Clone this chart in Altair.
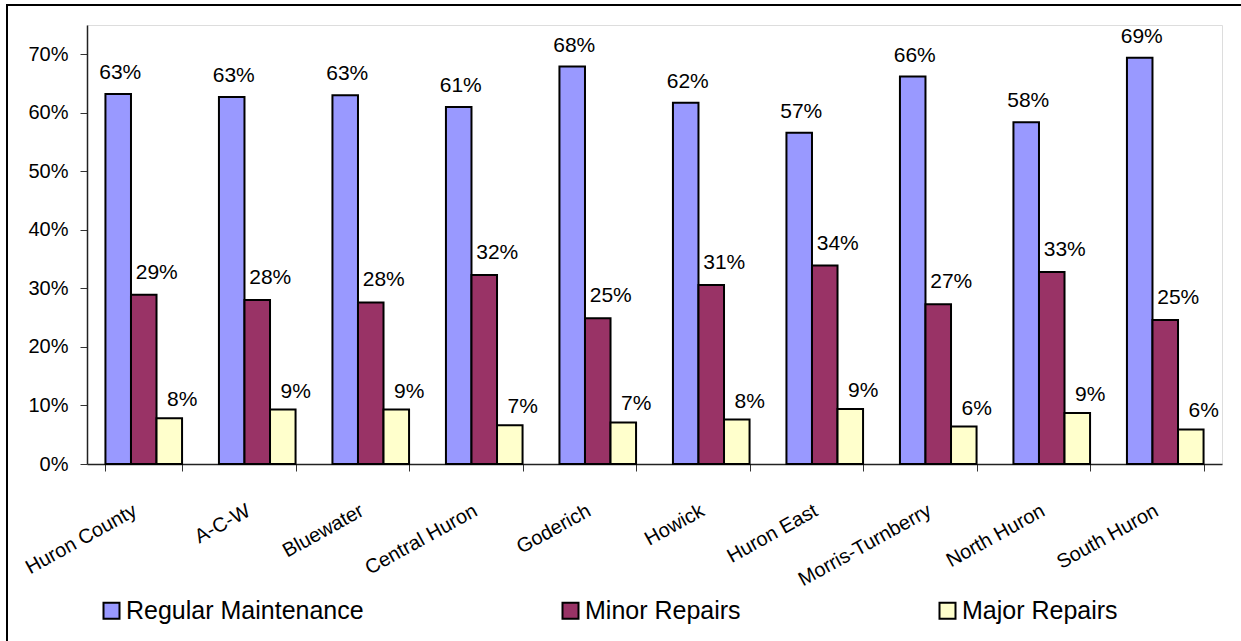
import altair as alt
import pandas as pd

# Share of dwellings by repair need, per municipality (percent)
areas = ["Huron County", "A-C-W", "Bluewater", "Central Huron", "Goderich",
         "Howick", "Huron East", "Morris-Turnberry", "North Huron", "South Huron"]
regular = [63.2, 62.7, 63.0, 61.0, 67.9, 61.7, 56.6, 66.2, 58.4, 69.4]
minor = [28.9, 28.0, 27.6, 32.3, 24.9, 30.6, 33.9, 27.3, 32.8, 24.6]
major = [7.8, 9.3, 9.3, 6.6, 7.1, 7.6, 9.4, 6.4, 8.7, 5.9]

series = ["Regular Maintenance", "Minor Repairs", "Major Repairs"]
colors = ["#9999FF", "#993366", "#FFFFCC"]
y_ticks = [0, 0.1, 0.2, 0.3, 0.4, 0.5, 0.6, 0.7]

rows = []
for name, vals in zip(series, [regular, minor, major]):
    for area, v in zip(areas, vals):
        rows.append({"area": area, "series": name, "share": v / 100})
df = pd.DataFrame(rows)

FONT = "Liberation Sans"

x_enc = alt.X(
    "area:N", sort=areas,
    scale=alt.Scale(paddingInner=0.325, paddingOuter=0.1625),
    axis=alt.Axis(title=None, labelAngle=331, labelAlign="right", labelBaseline="middle",
                  labelFontSize=20, labelColor="black", labelPadding=38, labelOffset=-9,
                  tickBand="extent", tickSize=7, tickColor="#333333",
                  domainColor="#222222", domainWidth=1.5, labelFont=FONT),
)
xo_enc = alt.XOffset("series:N", sort=series, scale=alt.Scale(domain=series, padding=0))
y_enc = alt.Y(
    "share:Q",
    scale=alt.Scale(domain=[0, 0.75], nice=False),
    axis=alt.Axis(title=None, values=y_ticks, format=".0%", grid=False,
                  labelFontSize=20, labelColor="black", labelPadding=12,
                  tickSize=7, tickColor="#333333", domainColor="#222222", domainWidth=1.5,
                  labelFont=FONT),
)

bars = alt.Chart(df).mark_bar(stroke="black", strokeWidth=2).encode(
    x=x_enc, xOffset=xo_enc, y=y_enc,
    color=alt.Color(
        "series:N", sort=series,
        scale=alt.Scale(domain=series, range=colors),
        legend=alt.Legend(title=None, orient="none", legendX=12, legendY=573,
                          direction="horizontal", columns=3, columnPadding=194,
                          symbolType="square", symbolSize=256,
                          symbolStrokeColor="black", symbolStrokeWidth=2,
                          symbolOpacity=1, labelFontSize=25, labelColor="black",
                          labelOffset=2, labelLimit=0, padding=0, labelFont=FONT),
    ),
)

# value labels above each bar, one layer per series
label_shift = {"Regular Maintenance": (2, -15), "Minor Repairs": (13, -16), "Major Repairs": (13, -12)}
labels = []
for name in series:
    dx, dy = label_shift[name]
    labels.append(
        alt.Chart(df).transform_filter(alt.datum.series == name)
        .mark_text(baseline="alphabetic", align="center", dx=dx, dy=dy,
                   fontSize=21, color="black", font=FONT)
        .encode(x=x_enc, xOffset=xo_enc, y=y_enc,
                text=alt.Text("share:Q", format=".0%"))
    )

# outer chart frame
frame = alt.Chart(pd.DataFrame({"k": [0]})).mark_rect(
    fillOpacity=0, stroke="black", strokeWidth=2
).encode(x=alt.value(-80), y=alt.value(-20), x2=alt.value(1170), y2=alt.value(640))

chart = alt.layer(bars, *labels, frame).properties(
    width=1135, height=439,
    autosize=alt.AutoSizeParams(type="none"),
    padding={"left": 87, "top": 25, "right": 19, "bottom": 177},
).configure_view(stroke="#808080", strokeWidth=1.5).configure(font=FONT)

chart.save("out.html", embed_options={"renderer": "svg", "actions": False})
